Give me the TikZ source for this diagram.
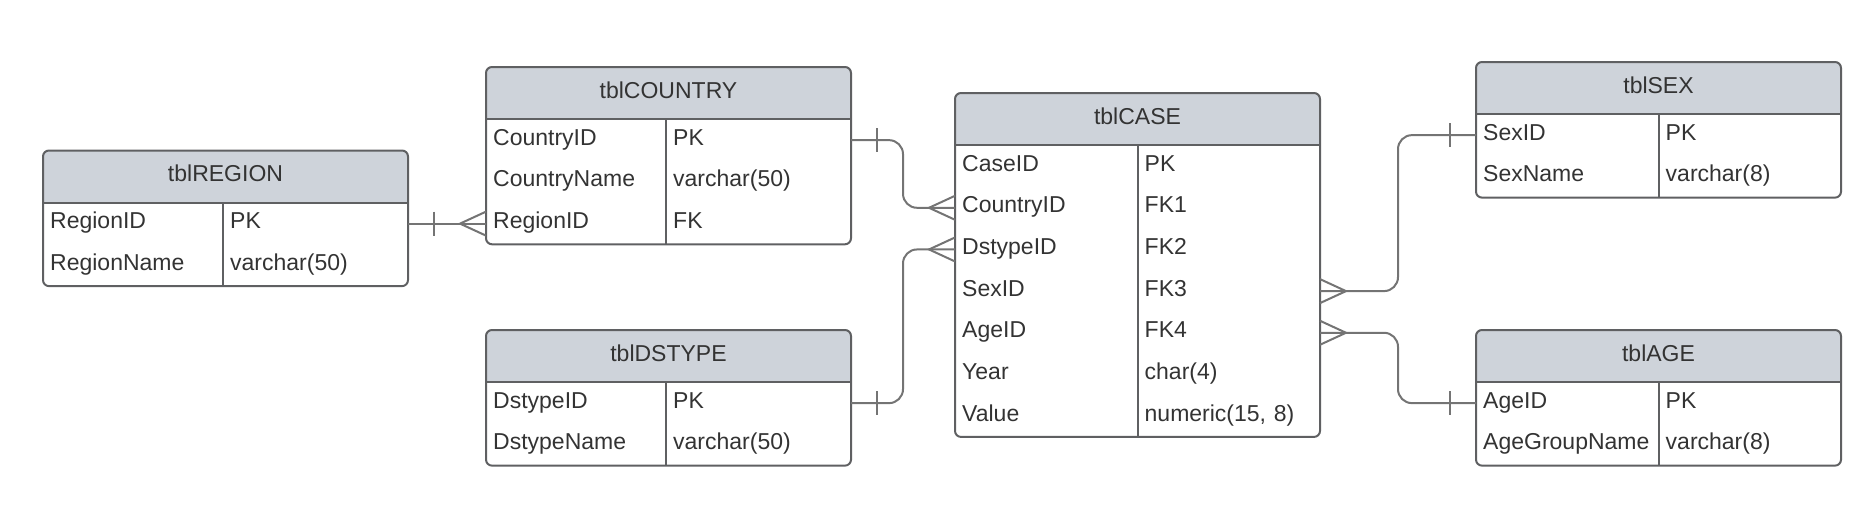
\documentclass[tikz,border=0pt]{standalone}
\usepackage{fontspec}
\setmainfont{Liberation Sans}
\usepackage{tikz}
\usetikzlibrary{calc}
\usetikzlibrary{positioning}
\definecolor{hdrgray}{HTML}{CED3DA}
\definecolor{framegray}{HTML}{5F6062}
\definecolor{linegray}{HTML}{747474}
\definecolor{txtgray}{HTML}{333333}
\tikzset{
	% Cells of a table: title cell and field cells (width of the text as value)
	head node/.style={rectangle,minimum width=182.5pt,minimum height=26.15pt,inner sep=0pt,outer sep=0pt,text height=8pt,text depth=3pt,text=txtgray},
	field node/.style={rectangle,minimum height=20.83pt,inner xsep=3.6pt,inner ysep=0pt,outer sep=0pt,text width=#1,align=left,text height=8pt,text depth=3pt,text=txtgray},
	field node/.default=84.05pt,
	% Outline of a table and relation lines
	frame/.style={draw=framegray,line width=1pt},
	link/.style={draw=linegray,line width=1pt}
}

\begin{document}
\begin{tikzpicture}[x=0.5pt,y=-0.5pt,font=\fontsize{11.5}{13.8}\selectfont]
				% macros for a table: title, one row, outline
				\newcommand{\tblhead}[3]{\fill[hdrgray,rounded corners=3pt]($(#2)+(0,52.3)$)--(#2)--++(365,0)--++(0,52.3);
					\node[head node,anchor=north west](#1)at(#2){#3};}
				\newcommand{\tblrow}[5][84.05pt]{\node[field node=#1,below right=0pt and 0pt of #3.south west](#2){#4};
					\node[field node,right=0pt of #2](#2-t){#5};}
				\newcommand{\tblframe}[2]{\draw[frame,rounded corners=3pt](#1.north west)rectangle(#1.east|-#2.south);
					\draw[frame](#1.south west)--(#1.south east);
					\draw[frame](#2-t.south west)--(#2-t.south west|-#1.south);}
				% macros for the ends of a relation: one bar and crow's foot
				\newcommand{\onebar}[2][1]{\draw[link]($(#2)+(#1*26,-12)$)--++(0,24);}
				\newcommand{\crowfoot}[2][-1]{\draw[link]($(#2)+(0,-12)$)--($(#2)+(#1*26,0)$)--($(#2)+(0,12)$);}
				
				\useasboundingbox(0,0)rectangle(1870,504);
				
				% tblREGION
				\tblhead{region}{43,150.5}{tblREGION}
				\tblrow[82.8pt]{region-1}{region}{RegionID}{PK}
				\tblrow[82.8pt]{region-2}{region-1}{RegionName}{varchar(50)}
				\tblframe{region}{region-2}
				
				% tblCOUNTRY
				\tblhead{country}{486,67}{tblCOUNTRY}
				\tblrow[82.8pt]{country-1}{country}{CountryID}{PK}
				\tblrow[82.8pt]{country-2}{country-1}{CountryName}{varchar(50)}
				\tblrow[82.8pt]{country-3}{country-2}{RegionID}{FK}
				\tblframe{country}{country-3}
				
				% tblDSTYPE
				\tblhead{dstype}{486,330}{tblDSTYPE}
				\tblrow[82.8pt]{dstype-1}{dstype}{DstypeID}{PK}
				\tblrow[82.8pt]{dstype-2}{dstype-1}{DstypeName}{varchar(50)}
				\tblframe{dstype}{dstype-2}
				
				% tblCASE
				\tblhead{case}{955,93}{tblCASE}
				\tblrow{case-1}{case}{CaseID}{PK}
				\tblrow{case-2}{case-1}{CountryID}{FK1}
				\tblrow{case-3}{case-2}{DstypeID}{FK2}
				\tblrow{case-4}{case-3}{SexID}{FK3}
				\tblrow{case-5}{case-4}{AgeID}{FK4}
				\tblrow{case-6}{case-5}{Year}{char(4)}
				\tblrow{case-7}{case-6}{Value}{numeric(15, 8)}
				\tblframe{case}{case-7}
				
				% tblSEX
				\tblhead{sex}{1476,62}{tblSEX}
				\tblrow{sex-1}{sex}{SexID}{PK}
				\tblrow{sex-2}{sex-1}{SexName}{varchar(8)}
				\tblframe{sex}{sex-2}
				
				% tblAGE
				\tblhead{age}{1476,330}{tblAGE}
				\tblrow{age-1}{age}{AgeID}{PK}
				\tblrow{age-2}{age-1}{AgeGroupName}{varchar(8)}
				\tblframe{age}{age-2}
				
				% relations
				\draw[link](region-1-t.east-|region.east)--(region-1-t.east-|country-3.west);
				\draw[link,rounded corners=7pt](country-1-t.east-|country.east)--++(52,0)|-(case-2.west);
				\draw[link,rounded corners=7pt](dstype-1-t.east-|dstype.east)--++(52,0)|-(case-3.west);
				\draw[link,rounded corners=7pt](case-4-t.east-|case.east)--++(78,0)|-(sex-1.west);
				\draw[link,rounded corners=7pt](case-5-t.east-|case.east)--++(78,0)|-(age-1.west);
				
				\onebar{region-1-t.east-|region.east}
				\crowfoot{region-1-t.east-|country-3.west}
				\onebar{country-1-t.east-|country.east}
				\crowfoot{case-2.west}
				\onebar{dstype-1-t.east-|dstype.east}
				\crowfoot{case-3.west}
				\crowfoot[1]{case-4-t.east-|case.east}
				\onebar[-1]{sex-1.west}
				\crowfoot[1]{case-5-t.east-|case.east}
				\onebar[-1]{age-1.west}
\end{tikzpicture}
\end{document}
